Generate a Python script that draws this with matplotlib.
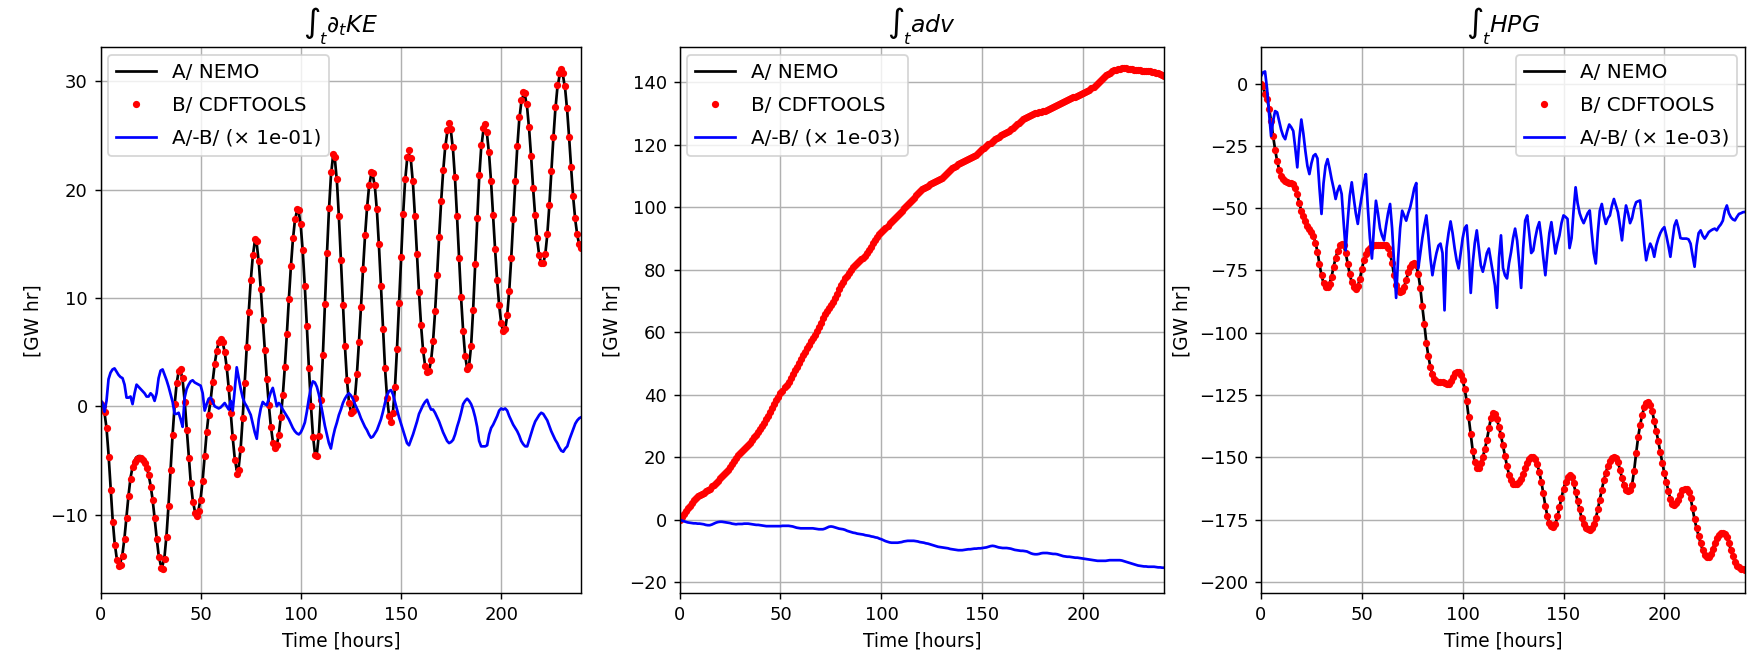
import numpy as np
import matplotlib
matplotlib.use("Agg")
import matplotlib.pyplot as plt

# ---------------- data (hourly, t = 0 .. 240 h) ----------------
hours = np.arange(0, 241)

ke_nemo = [
    0.3, 0.1, -0.6, -2.0, -4.4, -7.4, -10.3, -12.5, -13.9, -14.5,
    -14.4, -13.6, -12.1, -10.2, -8.2, -6.6, -5.6, -5.0, -4.7, -4.6,
    -4.6, -4.8, -5.1, -5.6, -6.3, -7.3, -8.6, -10.3, -12.1, -13.7,
    -14.6, -14.7, -13.8, -11.8, -9.0, -5.8, -2.6, 0.1, 2.1, 3.2,
    3.3, 2.4, 0.5, -2.0, -4.6, -6.9, -8.6, -9.6, -9.9, -9.5,
    -8.5, -6.8, -4.6, -2.4, -0.7, 0.6, 2.3, 3.9, 5.1, 5.9,
    6.2, 5.9, 5.0, 3.6, 1.7, -0.6, -2.9, -4.8, -5.9, -5.6,
    -3.8, -1.0, 2.2, 5.5, 8.7, 11.6, 13.8, 15.2, 15.0, 13.3,
    10.8, 8.0, 5.2, 2.5, 0.2, -1.8, -3.2, -3.8, -3.6, -2.6,
    -1.0, 1.0, 3.6, 6.6, 9.8, 12.8, 15.3, 17.1, 18.0, 17.9,
    16.6, 14.2, 11.0, 7.4, 3.6, 0.2, -2.6, -4.3, -4.4, -2.6,
    0.6, 4.7, 9.3, 13.9, 18.0, 21.2, 23.0, 22.8, 20.8, 17.5,
    13.5, 9.4, 5.6, 2.5, 0.4, -0.5, -0.4, 0.8, 3.0, 5.9,
    9.1, 12.5, 15.6, 18.2, 20.2, 21.3, 21.3, 20.2, 18.0, 14.8,
    11.0, 7.1, 3.6, 0.9, -0.8, -1.3, -0.5, 1.8, 5.3, 9.4,
    13.6, 17.5, 20.7, 22.7, 23.3, 22.6, 20.5, 17.4, 13.9, 10.5,
    7.5, 5.2, 3.8, 3.2, 3.3, 4.2, 6.0, 8.7, 12.0, 15.5,
    18.8, 21.6, 23.8, 25.2, 25.8, 25.3, 23.6, 20.9, 17.4, 13.6,
    10.0, 7.0, 4.7, 3.5, 3.8, 5.6, 8.9, 13.0, 17.2, 21.0,
    23.8, 25.3, 25.7, 25.0, 23.2, 20.6, 17.5, 14.4, 11.6, 9.3,
    7.7, 6.9, 7.1, 8.4, 10.6, 13.6, 17.1, 20.6, 23.8, 26.4,
    28.0, 28.7, 28.6, 27.5, 25.5, 22.9, 20.0, 17.5, 15.4, 13.9,
    13.2, 13.2, 14.0, 15.8, 18.4, 21.5, 24.6, 27.3, 29.3, 30.4,
    30.7, 30.4, 29.2, 27.2, 24.6, 21.8, 19.2, 17.2, 15.8, 14.9,
    14.5,
]

ke_diff = [
    0.6, 0.3, -0.5, 0.5, 2.5, 3.1, 3.4, 3.5, 3.2, 2.9,
    2.7, 2.6, 2.0, 0.8, 0.8, 0.9, 0.2, 1.2, 2.0, 1.8,
    1.6, 1.4, 1.2, 0.9, 0.9, 1.2, 1.0, 0.5, 1.2, 2.6,
    3.3, 3.4, 2.9, 2.4, 1.8, 1.1, 0.4, -0.7, -0.7, -0.6,
    -1.2, -1.9, 0.8, 1.6, 2.0, 2.3, 2.4, 2.2, 2.1, 2.0,
    1.9, 1.2, -0.4, 0.2, 0.7, 0.8, 0.4, 0.0, -0.1, -0.2,
    -0.1, 0.1, 0.3, 0.0, -0.3, 0.5, -0.4, 1.5, 3.6, 2.6,
    1.6, 0.8, 0.3, 0.0, -0.4, -0.8, -1.6, -2.4, -3.0, -1.2,
    -0.2, 0.4, 0.2, 0.1, 0.7, 1.3, 1.7, 0.9, 0.0, 0.3,
    0.1, -0.3, -0.6, -0.9, -1.2, -1.6, -2.0, -2.3, -2.5, -2.6,
    -2.4, -2.0, -1.5, -0.5, 0.7, 1.7, 2.3, 2.2, 1.8, 1.1,
    0.2, -0.8, -1.8, -2.6, -3.4, -3.9, -2.9, -2.1, -1.5, -0.8,
    -0.3, 0.3, 0.7, 1.0, 1.2, 1.0, 0.7, 0.2, -0.2, -0.6,
    -1.1, -1.5, -1.9, -2.2, -2.6, -2.9, -2.8, -2.5, -2.2, -1.7,
    -1.2, -0.5, 0.3, 1.0, 1.4, 1.5, 1.1, 0.4, -0.3, -1.0,
    -1.6, -2.2, -2.8, -3.4, -3.6, -3.1, -2.6, -2.0, -1.4, -0.7,
    -0.3, 0.1, 0.4, 0.6, 0.1, -0.3, -0.3, -0.6, -1.0, -1.4,
    -1.9, -2.4, -2.8, -3.2, -3.4, -3.3, -3.1, -2.6, -1.9, -1.3,
    -0.6, 0.2, 0.5, 0.7, 0.5, 0.2, -0.3, -1.0, -1.9, -3.2,
    -3.7, -3.7, -3.7, -3.6, -2.6, -2.0, -1.7, -1.3, -0.9, -0.4,
    -0.2, -0.3, -0.2, -0.4, -0.9, -1.3, -1.7, -2.0, -2.3, -2.7,
    -3.2, -3.5, -3.7, -3.7, -3.1, -2.5, -1.9, -1.4, -1.1, -0.8,
    -0.6, -0.7, -1.0, -1.3, -1.8, -2.3, -2.7, -3.1, -3.4, -3.8,
    -4.1, -4.2, -3.9, -3.7, -3.1, -2.6, -2.1, -1.6, -1.3, -1.1,
    -1.0,
]

adv_nemo = [
    0.0, 0.9, 1.8, 2.7, 3.6, 4.4, 5.3, 6.2, 6.9, 7.5,
    7.9, 8.3, 8.6, 9.0, 9.4, 9.9, 10.6, 11.2, 11.8, 12.5,
    13.2, 13.9, 14.5, 15.1, 15.8, 16.8, 17.8, 18.8, 19.7, 20.6,
    21.4, 22.0, 22.6, 23.2, 23.8, 24.6, 25.4, 26.3, 27.2, 28.1,
    29.0, 30.0, 31.0, 32.1, 33.3, 34.5, 35.8, 37.0, 38.2, 39.3,
    40.4, 41.3, 42.3, 43.2, 44.2, 45.3, 46.6, 47.8, 49.0, 50.2,
    51.5, 52.7, 53.8, 54.9, 56.0, 57.1, 58.1, 59.2, 60.3, 61.6,
    63.0, 64.6, 65.8, 66.8, 67.7, 68.7, 69.6, 71.0, 72.3, 73.7,
    75.0, 76.2, 77.2, 78.1, 79.0, 79.9, 80.7, 81.5, 82.1, 82.7,
    83.3, 83.9, 84.5, 85.4, 86.4, 87.4, 88.5, 89.6, 90.6, 91.4,
    92.1, 92.8, 93.5, 94.1, 94.8, 95.5, 96.2, 96.9, 97.6, 98.2,
    98.9, 99.6, 100.3, 101.0, 101.7, 102.4, 103.1, 103.8, 104.5, 105.2,
    105.7, 106.1, 106.5, 106.9, 107.3, 107.6, 108.0, 108.3, 108.7, 109.1,
    109.5, 110.0, 110.6, 111.2, 111.8, 112.4, 112.9, 113.3, 113.7, 114.1,
    114.5, 114.9, 115.2, 115.5, 115.8, 116.1, 116.4, 116.8, 117.3, 117.9,
    118.5, 119.1, 119.7, 120.2, 120.7, 121.2, 121.7, 122.2, 122.6, 123.0,
    123.4, 123.8, 124.1, 124.5, 124.9, 125.4, 125.9, 126.5, 127.1, 127.6,
    128.1, 128.6, 129.0, 129.3, 129.6, 129.8, 130.0, 130.2, 130.4, 130.5,
    130.7, 130.9, 131.2, 131.5, 131.8, 132.1, 132.4, 132.8, 133.1, 133.4,
    133.8, 134.1, 134.4, 134.7, 134.9, 135.2, 135.4, 135.6, 135.9, 136.2,
    136.5, 136.8, 137.1, 137.6, 138.1, 138.6, 139.2, 139.8, 140.4, 141.0,
    141.6, 142.2, 142.7, 143.1, 143.5, 143.8, 144.0, 144.2, 144.3, 144.4,
    144.4, 144.4, 144.3, 144.2, 144.1, 144.0, 143.9, 143.8, 143.8, 143.7,
    143.7, 143.6, 143.5, 143.5, 143.4, 143.2, 143.0, 142.8, 142.5, 142.3,
    142.1,
]

adv_diff = [
    0.0, -0.3, -0.5, -0.7, -0.9, -1.0, -1.1, -1.2, -1.2, -1.3,
    -1.3, -1.4, -1.5, -1.7, -1.8, -1.8, -1.6, -1.3, -1.0, -0.8,
    -0.7, -0.7, -0.8, -0.9, -1.0, -1.1, -1.3, -1.4, -1.5, -1.4,
    -1.4, -1.4, -1.3, -1.3, -1.3, -1.4, -1.5, -1.6, -1.7, -1.7,
    -1.8, -1.9, -2.0, -2.1, -2.1, -2.1, -2.1, -2.1, -2.1, -2.1,
    -2.1, -2.0, -2.0, -2.0, -2.0, -2.1, -2.2, -2.4, -2.6, -2.7,
    -2.8, -2.8, -2.8, -2.8, -2.8, -2.8, -2.8, -2.9, -3.0, -3.1,
    -3.1, -3.1, -2.9, -2.6, -2.3, -2.2, -2.3, -2.5, -2.7, -2.9,
    -3.0, -3.1, -3.3, -3.6, -3.8, -4.0, -4.2, -4.3, -4.5, -4.6,
    -4.7, -4.8, -5.0, -5.1, -5.2, -5.4, -5.5, -5.7, -5.8, -6.1,
    -6.3, -6.6, -6.9, -7.1, -7.3, -7.4, -7.4, -7.4, -7.4, -7.3,
    -7.2, -7.0, -6.9, -6.8, -6.8, -6.8, -6.8, -6.9, -7.0, -7.2,
    -7.3, -7.4, -7.6, -7.7, -7.9, -8.1, -8.3, -8.5, -8.7, -8.8,
    -8.9, -9.0, -9.1, -9.2, -9.4, -9.5, -9.6, -9.7, -9.8, -9.8,
    -9.8, -9.7, -9.6, -9.5, -9.5, -9.4, -9.3, -9.3, -9.2, -9.2,
    -9.1, -9.0, -8.9, -8.7, -8.5, -8.4, -8.5, -8.7, -8.9, -9.0,
    -9.1, -9.1, -9.1, -9.2, -9.3, -9.5, -9.7, -9.8, -9.9, -10.0,
    -10.0, -10.1, -10.2, -10.5, -10.8, -11.0, -11.1, -11.1, -11.0, -10.8,
    -10.7, -10.7, -10.7, -10.8, -10.9, -11.0, -11.0, -11.1, -11.3, -11.5,
    -11.7, -11.8, -11.9, -11.9, -12.0, -12.1, -12.2, -12.2, -12.3, -12.4,
    -12.5, -12.6, -12.7, -12.8, -12.9, -13.0, -13.1, -13.2, -13.2, -13.2,
    -13.2, -13.2, -13.1, -13.0, -13.0, -13.0, -13.0, -13.0, -13.0, -13.1,
    -13.3, -13.5, -13.7, -13.9, -14.1, -14.3, -14.5, -14.7, -14.8, -14.9,
    -15.0, -15.0, -15.1, -15.1, -15.1, -15.1, -15.2, -15.3, -15.3, -15.4,
    -15.4,
]

hpg_nemo = [
    0.0, -1.0, -4.0, -6.0, -10.0, -15.0, -21.0, -26.5, -31.0, -34.5,
    -37.0, -38.3, -39.2, -39.5, -39.8, -40.0, -40.5, -42.0, -44.5, -48.0,
    -51.0, -53.3, -55.2, -57.0, -58.3, -59.6, -61.3, -63.8, -67.5, -72.5,
    -77.0, -80.0, -81.5, -81.6, -80.3, -77.5, -73.5, -70.0, -67.3, -65.0,
    -64.3, -65.0, -68.0, -72.3, -76.5, -79.8, -81.6, -82.3, -81.2, -78.5,
    -74.4, -71.0, -68.5, -67.0, -66.0, -65.3, -65.0, -64.8, -64.7, -64.7,
    -64.8, -64.8, -65.0, -66.0, -68.5, -72.0, -77.0, -80.8, -82.8, -83.6,
    -83.2, -81.5, -78.8, -75.8, -73.5, -72.4, -72.1, -73.0, -76.5, -82.0,
    -89.5, -96.5, -104.0, -109.5, -113.7, -116.8, -118.8, -119.5, -119.8, -119.9,
    -120.0, -120.3, -120.6, -120.5, -119.5, -117.8, -116.3, -115.8, -116.0, -117.2,
    -119.0, -122.5, -127.5, -134.0, -140.7, -147.5, -152.0, -154.3, -154.2, -152.2,
    -149.8, -146.8, -143.0, -138.5, -134.2, -132.3, -132.6, -134.8, -137.8, -141.3,
    -145.3, -149.5, -153.6, -157.0, -159.3, -160.6, -160.9, -160.6, -160.0, -158.8,
    -156.8, -154.5, -152.2, -150.6, -150.0, -150.0, -150.7, -152.8, -156.0, -159.8,
    -164.5, -169.5, -173.6, -176.3, -177.7, -178.0, -176.8, -173.8, -170.0, -166.2,
    -162.8, -160.0, -158.1, -157.3, -158.0, -160.5, -164.0, -167.5, -171.0, -174.5,
    -177.0, -178.4, -179.0, -179.1, -178.5, -177.0, -174.5, -171.0, -167.0, -163.0,
    -159.3, -156.2, -153.5, -151.5, -150.3, -150.0, -150.2, -151.8, -155.0, -158.3,
    -161.0, -163.0, -163.6, -163.3, -161.0, -155.5, -148.5, -142.0, -137.0, -133.0,
    -130.0, -128.2, -128.0, -129.0, -131.5, -135.5, -139.5, -143.5, -148.0, -152.2,
    -156.3, -160.0, -163.5, -166.8, -168.7, -169.2, -168.5, -167.2, -165.0, -163.2,
    -162.6, -162.7, -163.8, -166.3, -170.5, -175.0, -178.5, -181.5, -184.5, -187.3,
    -189.3, -190.1, -190.1, -188.8, -186.8, -184.5, -182.5, -181.2, -180.5, -180.4,
    -180.7, -182.0, -184.5, -187.2, -189.8, -192.0, -193.5, -194.2, -194.7, -195.0,
    -195.2,
]

hpg_diff = [
    3.0, 4.5, 4.9, -2.0, -12.0, -21.0, -15.0, -11.0, -11.5, -15.0,
    -18.5, -21.0, -22.3, -19.0, -16.4, -17.5, -19.0, -26.0, -33.6, -22.0,
    -14.4, -20.0, -27.0, -33.0, -36.3, -32.0, -29.0, -28.3, -30.0, -42.0,
    -52.3, -40.0, -33.0, -30.3, -34.0, -38.3, -42.0, -46.3, -43.0, -41.0,
    -44.3, -56.0, -66.9, -55.0, -45.0, -39.6, -46.0, -52.0, -56.3, -50.0,
    -45.0, -40.0, -36.3, -50.0, -62.0, -70.2, -58.0, -47.0, -52.0, -58.0,
    -61.0, -62.9, -57.0, -52.0, -48.3, -58.0, -72.0, -86.0, -70.0, -58.0,
    -51.0, -53.0, -55.0, -52.0, -49.6, -46.0, -42.0, -39.9, -74.2, -68.0,
    -62.0, -57.0, -52.9, -61.0, -70.0, -76.9, -72.0, -68.0, -65.0, -64.2,
    -68.0, -91.0, -66.0, -60.0, -55.3, -60.0, -66.0, -71.0, -74.2, -68.0,
    -62.0, -58.0, -56.9, -68.0, -84.0, -72.0, -64.0, -58.9, -66.0, -73.0,
    -75.5, -72.0, -68.0, -66.2, -71.0, -76.0, -81.0, -90.0, -70.0, -60.9,
    -74.0, -77.0, -78.2, -72.0, -67.6, -62.0, -58.2, -63.0, -72.0, -82.0,
    -66.0, -55.0, -52.9, -60.0, -68.0, -67.0, -62.0, -58.0, -55.6, -62.0,
    -70.0, -76.9, -68.0, -60.0, -55.6, -62.0, -68.2, -64.0, -60.9, -56.0,
    -52.9, -53.5, -54.3, -66.0, -62.0, -51.0, -41.6, -48.0, -52.0, -54.3,
    -56.0, -54.0, -52.0, -50.9, -60.0, -68.0, -72.2, -60.0, -51.0, -48.3,
    -53.0, -56.3, -54.0, -52.9, -49.0, -46.3, -49.0, -51.6, -57.0, -62.9,
    -55.0, -48.9, -52.0, -56.0, -54.0, -50.0, -47.6, -47.2, -46.9, -55.0,
    -64.0, -70.9, -67.0, -64.2, -66.0, -69.5, -65.0, -62.2, -60.0, -58.5,
    -57.6, -61.0, -65.0, -69.5, -63.0, -57.0, -54.9, -58.0, -62.0, -62.2,
    -62.2, -62.2, -62.5, -64.2, -69.0, -73.5, -65.0, -60.0, -58.9, -61.0,
    -62.2, -61.0, -59.6, -59.0, -58.5, -58.2, -58.9, -57.5, -56.5, -55.0,
    -51.0, -48.9, -52.0, -53.6, -54.5, -54.9, -53.5, -52.3, -52.0, -51.6,
    -51.5,
]

titles = [r"$\int_t \partial_t KE$", r"$\int_t adv$", r"$\int_t HPG$"]
scales = [1e-01, 1e-03, 1e-03]
scale_labels = ["1e-01", "1e-03", "1e-03"]
ylims = [(-17.27, 33.15), (-23.6, 151.2), (-204.6, 14.6)]
legend_locs = ["upper left", "upper left", "upper right"]

series_a = [ke_nemo, adv_nemo, hpg_nemo]
series_d = [ke_diff, adv_diff, hpg_diff]

# ---------------- figure ----------------
W, H = 1748, 656
DPI = 130
fig = plt.figure(figsize=(W / DPI, H / DPI), dpi=DPI)

lefts = [100.5, 679.5, 1261.0]
widths = [480.8, 484.7, 484.0]
bottom_px, top_px = 593.3, 47.3

for i in range(3):
    ax = fig.add_axes([lefts[i] / W, (H - bottom_px) / H,
                       widths[i] / W, (bottom_px - top_px) / H])
    a = np.array(series_a[i])
    d = np.array(series_d[i])
    b = a - d * scales[i]
    ax.plot(hours, a, "k-", lw=1.5, label="A/ NEMO")
    ax.plot(hours, b, "r.", label="B/ CDFTOOLS")
    ax.plot(hours, d, "b-", lw=1.5,
            label="A/-B/ (\u00d7 %s)" % scale_labels[i])
    ax.set_xlim(0, 240)
    ax.set_ylim(*ylims[i])
    ax.set_xticks([0, 50, 100, 150, 200])
    ax.grid(True)
    ax.set_title(titles[i], fontsize=13)
    ax.set_xlabel("Time [hours]", fontsize=10.3)
    ax.set_ylabel("[GW hr]", fontsize=10.3)
    ax.legend(loc=legend_locs[i], numpoints=1, fontsize=11,
              labelspacing=0.7, borderaxespad=0.4)

fig.savefig("out.png", dpi=DPI)
